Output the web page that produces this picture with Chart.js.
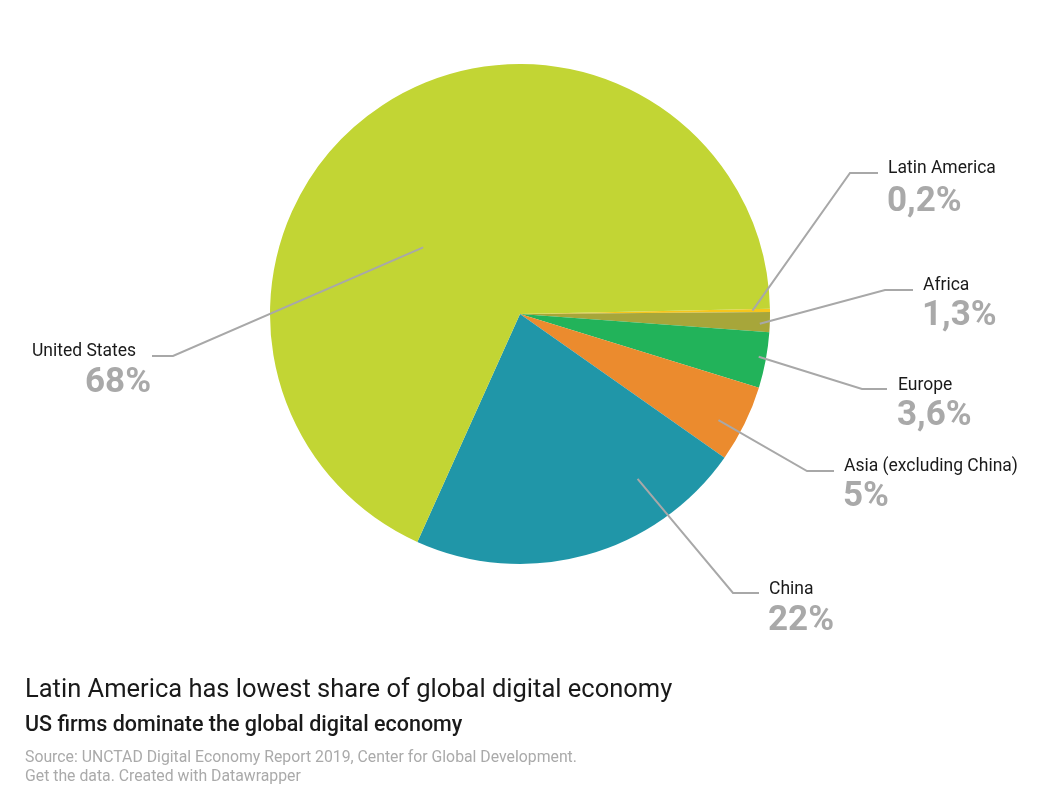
<!DOCTYPE html>
<html>
<head>
<meta charset="utf-8">
<script src="https://cdn.jsdelivr.net/npm/chart.js@4/dist/chart.umd.min.js"></script>
<style>
  html, body { margin: 0; padding: 0; background: #fff; }
  #wrap { position: relative; width: 1048px; height: 795px; }
  #chart { position: absolute; left: 0; top: 0; }
  .txt { position: absolute; font-family: Roboto, "Noto Sans", sans-serif; white-space: nowrap; }
  #title { left: 25px; top: 673px; font-size: 25.5px; color: #1a1a1a; }
  #subtitle { left: 25px; top: 711px; font-size: 21.5px; font-weight: 500; color: #1a1a1a; }
  #source { left: 25px; top: 747px; font-size: 15.8px; color: #aaaaaa; line-height: 19px; }
</style>
</head>
<body>
<div id="wrap">
  <canvas id="chart" width="1048" height="795"></canvas>
  <div class="txt" id="title">Latin America has lowest share of global digital economy</div>
  <div class="txt" id="subtitle">US firms dominate the global digital economy</div>
  <div class="txt" id="source">Source: UNCTAD Digital Economy Report 2019, Center for Global Development.<br>Get the data. Created with Datawrapper</div>
</div>
<script>
"use strict";

// regions, clockwise from 3 o'clock
var regions = ["Latin America", "Africa", "Europe", "Asia (excluding China)", "China", "United States"];
var shares = [0.2, 1.3, 3.6, 5, 22, 68];
var shareLabels = ["0,2%", "1,3%", "3,6%", "5%", "22%", "68%"];
var colors = ["#f7c61c", "#a7a63a", "#22b35a", "#eb8b2e", "#2096a8", "#c2d534"];

// label placement: where along the slice the leader starts (t = share of the arc, r = radius fraction),
// the elbow, the end of the horizontal run, and where the texts sit
var labelLayout = [
    { t: 0.5,  r: 0.93, elbow: [850, 173], end: 878, nameX: 888, nameY: 169, valX: 887, valY: 202 },
    { t: 0.6,  r: 0.96, elbow: [885, 290], end: 913, nameX: 923, nameY: 286, valX: 922, valY: 316 },
    { t: 0.46, r: 0.97, elbow: [862, 389], end: 887, nameX: 898, nameY: 386, valX: 897, valY: 416 },
    { t: 0.61, r: 0.9,  elbow: [807, 471], end: 834, nameX: 844, nameY: 467, valX: 843, valY: 497 },
    { t: 0.245, r: 0.81, elbow: [733, 593], end: 759, nameX: 769, nameY: 590, valX: 768, valY: 621 },
    { t: 0.41, r: 0.47, elbow: [173, 356], end: 152, nameX: 32, nameY: 352, valX: 85, valY: 383 }
];

var leaderLabels = {
    id: "leaderLabels",
    afterDatasetsDraw: function (chart) {
        var ctx = chart.ctx;
        var meta = chart.getDatasetMeta(0);
        ctx.save();
        meta.data.forEach(function (arc, i) {
            var p = arc.getProps(["x", "y", "startAngle", "endAngle", "outerRadius"], true);
            var lay = labelLayout[i];
            var a = p.startAngle + lay.t * (p.endAngle - p.startAngle);
            var sx = p.x + Math.cos(a) * p.outerRadius * lay.r;
            var sy = p.y + Math.sin(a) * p.outerRadius * lay.r;

            ctx.strokeStyle = "#a8a8a8";
            ctx.lineWidth = 2;
            ctx.beginPath();
            ctx.moveTo(sx, sy);
            ctx.lineTo(lay.elbow[0], lay.elbow[1]);
            ctx.lineTo(lay.end, lay.elbow[1]);
            ctx.stroke();

            ctx.textBaseline = "middle";
            ctx.textAlign = "left";
            ctx.fillStyle = "#1a1a1a";
            ctx.font = "17.5px Roboto, 'Noto Sans', sans-serif";
            ctx.fillText(regions[i], lay.nameX, lay.nameY);

            ctx.fillStyle = "#a9a9a9";
            ctx.font = "bold 35px Roboto, 'Noto Sans', sans-serif";
            ctx.fillText(shareLabels[i], lay.valX, lay.valY);
        });
        ctx.restore();
    }
};

new Chart(document.getElementById("chart"), {
    type: "pie",
    data: {
        labels: regions,
        datasets: [{
            data: shares,
            backgroundColor: colors,
            borderWidth: 0
        }]
    },
    options: {
        responsive: false,
        animation: false,
        rotation: 88.8,
        layout: {
            padding: { top: 64, bottom: 231, left: 270, right: 278 }
        },
        plugins: {
            legend: { display: false },
            tooltip: { enabled: false }
        },
        events: []
    },
    plugins: [leaderLabels]
});
</script>
</body>
</html>
